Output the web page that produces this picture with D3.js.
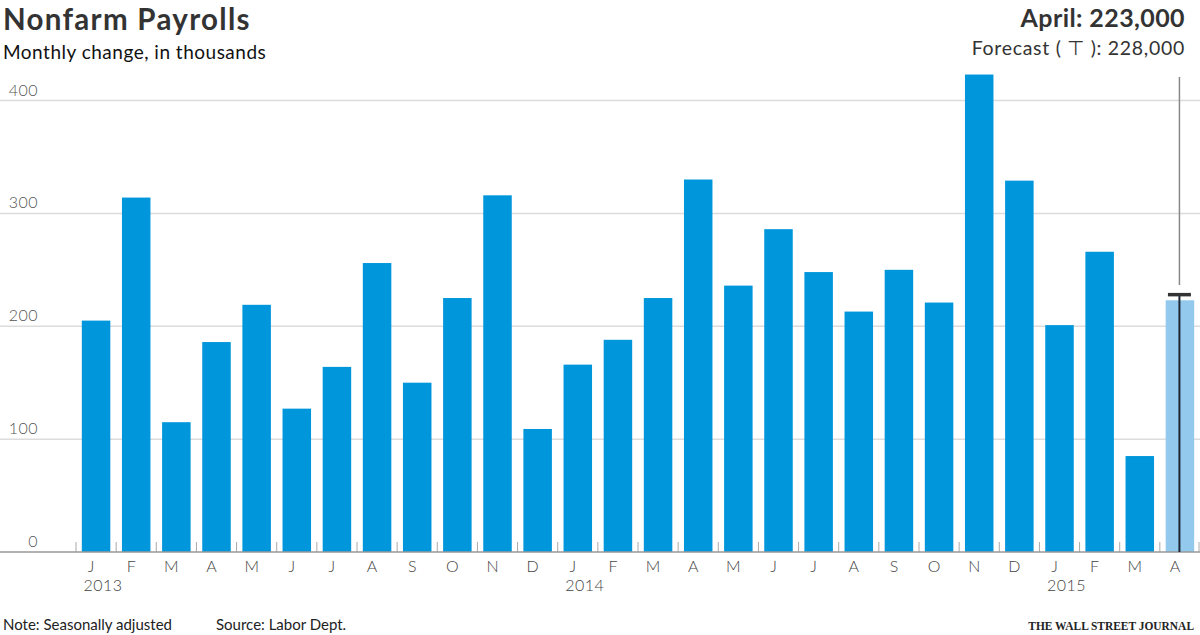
<!DOCTYPE html>
<html>
<head>
<meta charset="utf-8">
<script src="https://cdn.jsdelivr.net/npm/d3@7"></script>
<style>
  body { margin: 0; background: #fff; }
  svg { display: block; font-family: Lato, "Open Sans", sans-serif; }
</style>
</head>
<body>
<div id="chart"></div>
<script>
// monthly change in nonfarm payrolls, thousands (Jan 2013 - Apr 2015)
const months = ['J','F','M','A','M','J','J','A','S','O','N','D',
                'J','F','M','A','M','J','J','A','S','O','N','D',
                'J','F','M','A'];
const years = ['2013','2014','2015'];
const values = [205, 314, 115, 186, 219, 127, 164, 256, 150, 225, 316, 109,
                166, 188, 225, 330, 236, 286, 248, 213, 250, 221, 423, 329,
                201, 266, 85, 223];
const forecast = 228;
const yTicks = [0, 100, 200, 300, 400];

const width = 1200, height = 635;
const blue = '#0096db', lightBlue = '#94c9ee';

const svg = d3.select('#chart').append('svg')
  .attr('width', width)
  .attr('height', height);

const idx = d3.range(values.length);
const x = d3.scaleBand()
  .domain(idx)
  .range([76, 1200])
  .paddingInner(0.29)
  .paddingOuter(0.145);

const y = d3.scaleLinear()
  .domain([0, 400])
  .range([552, 100.5]);

// gridlines
svg.append('g').selectAll('line')
  .data(yTicks.filter(d => d > 0))
  .join('line')
  .attr('x1', 0).attr('x2', width)
  .attr('y1', d => y(d)).attr('y2', d => y(d))
  .attr('stroke', '#dcdcdc')
  .attr('stroke-width', 1.5);

// y labels
svg.append('g').selectAll('text')
  .data(yTicks)
  .join('text')
  .attr('x', 38)
  .attr('y', d => y(d) - 5)
  .attr('text-anchor', 'end')
  .attr('fill', '#555')
  .attr('font-size', 16)
  .attr('font-weight', 300)
  .attr('letter-spacing', 0.5)
  .text(d => d);

// bars
svg.append('g').selectAll('rect')
  .data(idx)
  .join('rect')
  .attr('x', i => x(i))
  .attr('width', x.bandwidth())
  .attr('y', i => y(values[i]))
  .attr('height', i => y(0) - y(values[i]))
  .attr('fill', (i) => i === values.length - 1 ? lightBlue : blue);

// baseline + ticks between bars
const step = x.step();
const edges = idx.map(i => x(i) - x.paddingInner() * step / 2);
edges.push(x(values.length - 1) + x.bandwidth() + x.paddingInner() * step / 2 - 1);
svg.append('g').selectAll('line')
  .data(edges)
  .join('line')
  .attr('x1', d => d).attr('x2', d => d)
  .attr('y1', y(0) - 10).attr('y2', y(0))
  .attr('stroke', '#aaa')
  .attr('stroke-width', 1);

svg.append('line')
  .attr('x1', 0).attr('x2', width)
  .attr('y1', y(0)).attr('y2', y(0))
  .attr('stroke', '#999')
  .attr('stroke-width', 1.5);

// month letters
svg.append('g').selectAll('text')
  .data(idx)
  .join('text')
  .attr('x', i => x(i) + x.bandwidth() / 2 - 5)
  .attr('y', 572)
  .attr('text-anchor', 'middle')
  .attr('fill', '#444')
  .attr('font-size', 16)
  .attr('font-weight', 300)
  .text(i => months[i]);

// year labels under each January
svg.append('g').selectAll('text')
  .data(years)
  .join('text')
  .attr('x', (d, k) => x(k * 12) + x.bandwidth() / 2 + 7)
  .attr('y', 591)
  .attr('text-anchor', 'middle')
  .attr('fill', '#444')
  .attr('font-size', 16)
  .attr('font-weight', 300)
  .attr('letter-spacing', 0.5)
  .text(d => d);

// forecast marker on April
const last = values.length - 1;
const cx = x(last) + x.bandwidth() / 2 - 0.5;
svg.append('line')
  .attr('x1', cx).attr('x2', cx)
  .attr('y1', 77).attr('y2', 285)
  .attr('stroke', '#888')
  .attr('stroke-width', 1.5);
svg.append('line')
  .attr('x1', cx).attr('x2', cx)
  .attr('y1', y(forecast)).attr('y2', y(0))
  .attr('stroke', '#1c2733')
  .attr('stroke-width', 2);
svg.append('line')
  .attr('x1', cx - 11.5).attr('x2', cx + 11.5)
  .attr('y1', y(forecast)).attr('y2', y(forecast))
  .attr('stroke', '#333')
  .attr('stroke-width', 3.5);

// titles
svg.append('text')
  .attr('x', 3).attr('y', 29.5)
  .attr('fill', '#333')
  .attr('font-size', 29.5)
  .attr('font-weight', 700)
  .attr('letter-spacing', 1.3)
  .text('Nonfarm Payrolls');
svg.append('text')
  .attr('x', 3).attr('y', 59)
  .attr('fill', '#111')
  .attr('font-size', 19)
  .attr('letter-spacing', 0.5)
  .text('Monthly change, in thousands');

svg.append('text')
  .attr('x', 1185).attr('y', 27)
  .attr('text-anchor', 'end')
  .attr('fill', '#333')
  .attr('font-size', 25)
  .attr('font-weight', 700)
  .attr('letter-spacing', 0.4)
  .text('April: 223,000');
svg.append('text')
  .attr('x', 1185).attr('y', 54.5)
  .attr('text-anchor', 'end')
  .attr('fill', '#333')
  .attr('font-size', 19.5)
  .attr('letter-spacing', 0.7)
  .text('Forecast ( \u22a4 ): 228,000');

// footer
svg.append('text')
  .attr('x', 3).attr('y', 630)
  .attr('fill', '#222')
  .attr('font-size', 15)
  .text('Note: Seasonally adjusted');
svg.append('text')
  .attr('x', 216).attr('y', 630)
  .attr('fill', '#222')
  .attr('font-size', 15)
  .text('Source: Labor Dept.');
svg.append('text')
  .attr('transform', 'translate(1194,629.5) scale(0.88,1)')
  .attr('text-anchor', 'end')
  .attr('fill', '#222')
  .attr('font-family', '"Liberation Serif", "DejaVu Serif", serif')
  .attr('font-size', 13)
  .attr('font-weight', 700)
  .text('THE WALL STREET JOURNAL');
</script>
</body>
</html>
